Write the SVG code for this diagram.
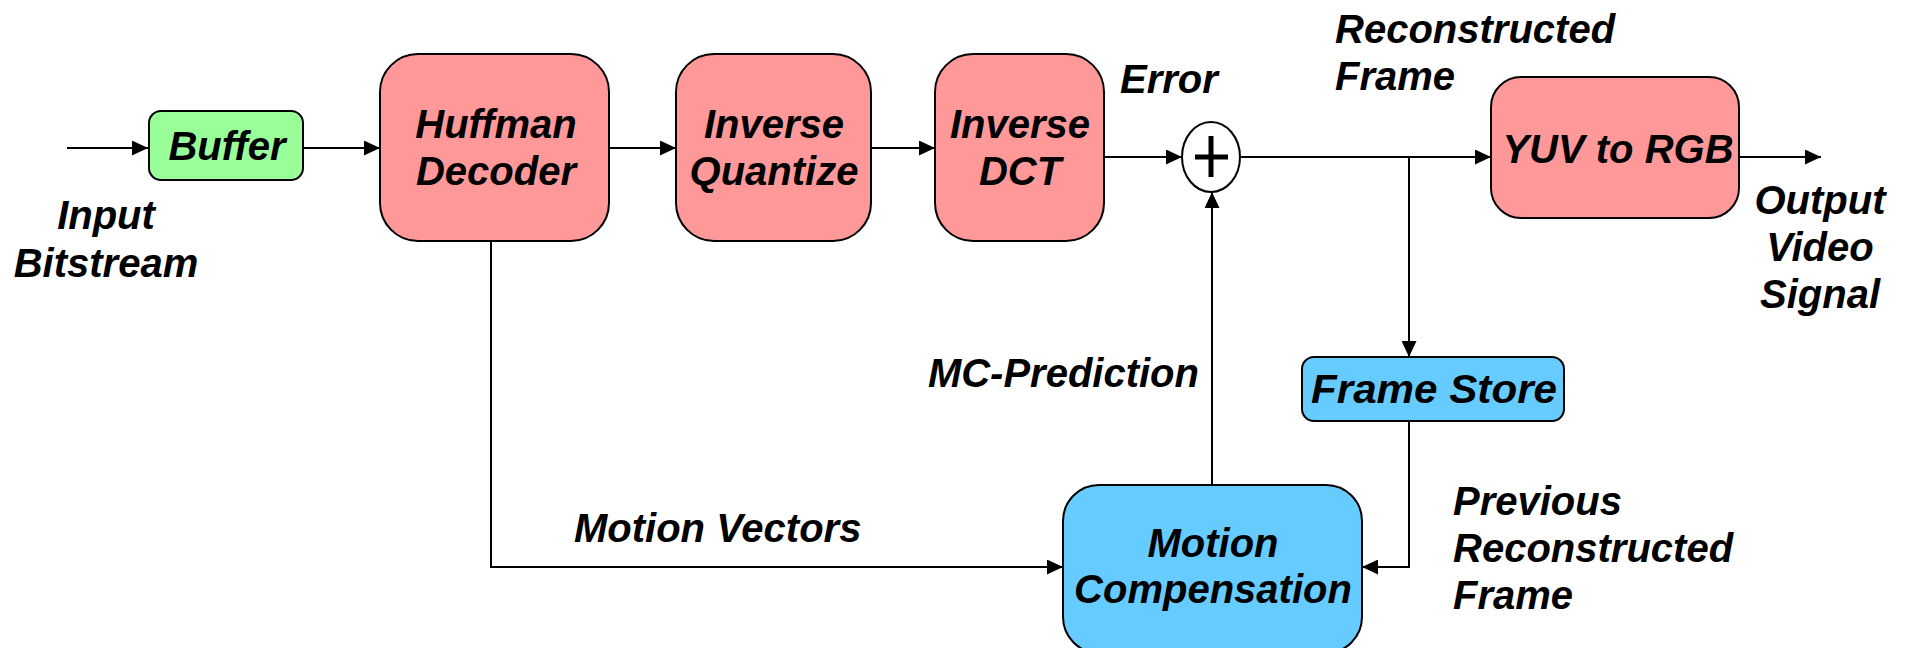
<svg xmlns="http://www.w3.org/2000/svg" width="1906" height="648" viewBox="0 0 1906 648">
  <style>
    .box { stroke: #000; stroke-width: 2; }
    .pink { fill: #FF9999; }
    .green { fill: #99FF99; }
    .blue { fill: #66CCFF; }
    .wire { fill: none; stroke: #000; stroke-width: 2; }
    .lbl { font-family: "Liberation Sans", Arial, sans-serif; font-weight: bold; font-style: italic; font-size: 40px; fill: #000; }
    .mid { text-anchor: middle; }
    .end { text-anchor: end; }
  </style>
  <defs>
    <marker id="arrow" markerUnits="userSpaceOnUse" markerWidth="16" markerHeight="15" refX="16" refY="7.5" orient="auto">
      <path d="M0,0 L16,7.5 L0,15 Z" fill="#000"/>
    </marker>
  </defs>

  <rect width="1906" height="648" fill="#fff"/>

  <!-- connectors -->
  <g id="connectors">
    <path class="wire" d="M67,148 H148" marker-end="url(#arrow)"/>
    <path class="wire" d="M303,148 H380" marker-end="url(#arrow)"/>
    <path class="wire" d="M609,148 H676" marker-end="url(#arrow)"/>
    <path class="wire" d="M871,148 H935" marker-end="url(#arrow)"/>
    <path class="wire" d="M1104,157 H1182" marker-end="url(#arrow)"/>
    <path class="wire" d="M1240,157 H1491" marker-end="url(#arrow)"/>
    <path class="wire" d="M1739,157 H1821" marker-end="url(#arrow)"/>
    <path class="wire" d="M1409,157 V357" marker-end="url(#arrow)"/>
    <path class="wire" d="M1409,421 V567 H1362" marker-end="url(#arrow)"/>
    <path class="wire" d="M491,241 V567 H1063" marker-end="url(#arrow)"/>
    <path class="wire" d="M1212,485 V192" marker-end="url(#arrow)"/>
  </g>

  <!-- free labels -->
  <g id="labels">
    <text class="lbl mid" x="106" y="229">Input</text>
    <text class="lbl mid" x="106" y="277">Bitstream</text>
    <text class="lbl" x="1120" y="93">Error</text>
    <text class="lbl" x="1335" y="43">Reconstructed</text>
    <text class="lbl" x="1335" y="90">Frame</text>
    <text class="lbl mid" x="1820" y="214">Output</text>
    <text class="lbl mid" x="1820" y="261">Video</text>
    <text class="lbl mid" x="1820" y="308">Signal</text>
    <text class="lbl end" x="1199" y="387">MC-Prediction</text>
    <text class="lbl" x="574" y="542">Motion Vectors</text>
    <text class="lbl" x="1453" y="515">Previous</text>
    <text class="lbl" x="1453" y="562">Reconstructed</text>
    <text class="lbl" x="1453" y="609">Frame</text>
  </g>

  <g id="buffer">
    <rect class="box green" x="149" y="111" width="154" height="69" rx="12"/>
    <text class="lbl mid" x="227" y="160">Buffer</text>
  </g>

  <g id="huffman-decoder">
    <rect class="box pink" x="380" y="54" width="229" height="187" rx="38"/>
    <text class="lbl mid" x="496" y="138">Huffman</text>
    <text class="lbl mid" x="496" y="185">Decoder</text>
  </g>

  <g id="inverse-quantize">
    <rect class="box pink" x="676" y="54" width="195" height="187" rx="38"/>
    <text class="lbl mid" x="774" y="138">Inverse</text>
    <text class="lbl mid" x="774" y="185">Quantize</text>
  </g>

  <g id="inverse-dct">
    <rect class="box pink" x="935" y="54" width="169" height="187" rx="38"/>
    <text class="lbl mid" x="1020" y="138">Inverse</text>
    <text class="lbl mid" x="1020" y="185">DCT</text>
  </g>

  <g id="adder">
    <ellipse class="box" fill="#fff" cx="1211" cy="157" rx="29" ry="35"/>
    <path d="M1211,136 V177 M1195,157 H1228" stroke="#000" stroke-width="5" fill="none"/>
  </g>

  <g id="yuv-to-rgb">
    <rect class="box pink" x="1491" y="77" width="248" height="141" rx="30"/>
    <text class="lbl mid" x="1618" y="163">YUV to RGB</text>
  </g>

  <g id="frame-store">
    <rect class="box blue" x="1302" y="357" width="262" height="64" rx="12"/>
    <text class="lbl mid" x="1434" y="403" textLength="246" lengthAdjust="spacingAndGlyphs">Frame Store</text>
  </g>

  <g id="motion-compensation">
    <rect class="box blue" x="1063" y="485" width="299" height="168" rx="36"/>
    <text class="lbl mid" x="1213" y="557">Motion</text>
    <text class="lbl mid" x="1213" y="603">Compensation</text>
  </g>
</svg>
